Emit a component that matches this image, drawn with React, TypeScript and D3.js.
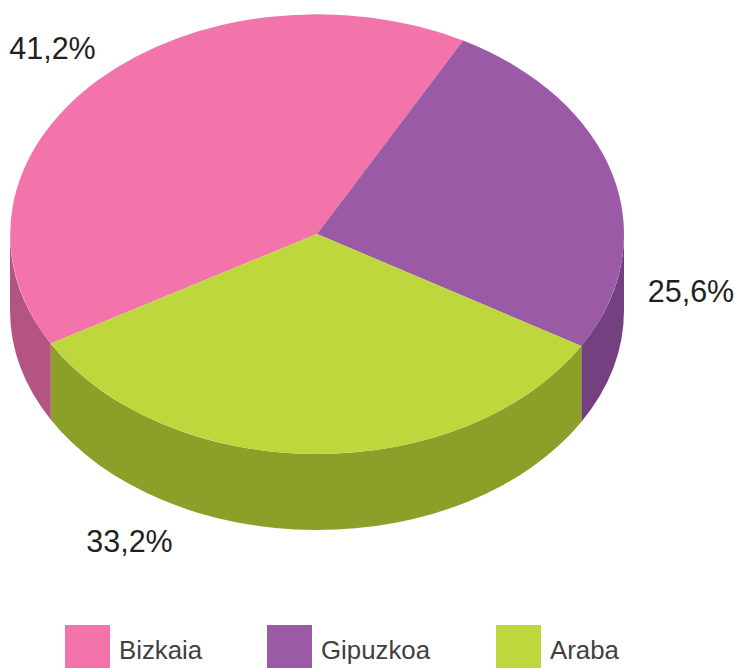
import React from "react";
import * as d3 from "d3";

const categories = ["Bizkaia", "Gipuzkoa", "Araba"];
const values = [41.2, 25.6, 33.2];
const valueLabels = ["41,2%", "25,6%", "33,2%"];
const topColors = ["#f274ab", "#9b5aa5", "#bdd73c"];
const sideColors = ["#b35482", "#74407f", "#8ca029"];

const W = 738, H = 668;
const cx = 317, cy = 234, rx = 307, ry = 220, depth = 76;
const start = (-119.9 * Math.PI) / 180;
const labelPos = [[52.5, 59], [691, 302], [129.5, 552]];
const legendX = [65, 267, 496];

const arcs = d3.pie<number>().sort(null).startAngle(start).endAngle(start + 2 * Math.PI)(values);
const unitArc = d3.arc<d3.PieArcDatum<number>>().innerRadius(0).outerRadius(1);

function pt(a: number, dy = 0) {
  return [rx * Math.sin(a), -ry * Math.cos(a) + dy] as const;
}

function wall(a0: number, a1: number) {
  const [x0, y0] = pt(a0);
  const [x1, y1] = pt(a1);
  return `M${x0},${y0}A${rx},${ry} 0 ${a1 - a0 > Math.PI ? 1 : 0} 1 ${x1},${y1}L${x1},${y1 + depth}A${rx},${ry} 0 ${a1 - a0 > Math.PI ? 1 : 0} 0 ${x0},${y0 + depth}Z`;
}

// visible side range: front half of the ellipse, angles 90°..270°
function visible(a0: number, a1: number): [number, number][] {
  const out: [number, number][] = [];
  const lo = Math.PI / 2, hi = (3 * Math.PI) / 2;
  for (const k of [-2 * Math.PI, 0, 2 * Math.PI]) {
    const s = Math.max(a0, lo + k), e = Math.min(a1, hi + k);
    if (e > s) out.push([s, e]);
  }
  return out;
}

export default function App() {
  return (
    <svg
      width={W}
      height={H}
      viewBox={`0 0 ${W} ${H}`}
      style={{ position: "absolute", left: 0, top: 0, background: "#fff" }}
      fontFamily="'Liberation Sans', Arial, sans-serif"
    >
      <g transform={`translate(${cx},${cy})`}>
        {arcs.map((d, i) =>
          visible(d.startAngle, d.endAngle).map(([s, e], j) => (
            <path key={`${i}-${j}`} d={wall(s, e)} fill={sideColors[i]} />
          ))
        )}
        {arcs.map((d, i) => (
          <path
            key={i}
            d={unitArc(d) ?? ""}
            transform={`scale(${rx},${ry})`}
            fill={topColors[i]}
          />
        ))}
      </g>
      {valueLabels.map((t, i) => (
        <text key={t} x={labelPos[i][0]} y={labelPos[i][1]} textAnchor="middle" fontSize={30.5} fill="#231f20">
          {t}
        </text>
      ))}
      {categories.map((c, i) => (
        <g key={c}>
          <rect x={legendX[i]} y={625} width={45} height={43} fill={topColors[i]} />
          <text x={legendX[i] + 54} y={659} fontSize={25.8} fill="#414042">
            {c}
          </text>
        </g>
      ))}
    </svg>
  );
}
